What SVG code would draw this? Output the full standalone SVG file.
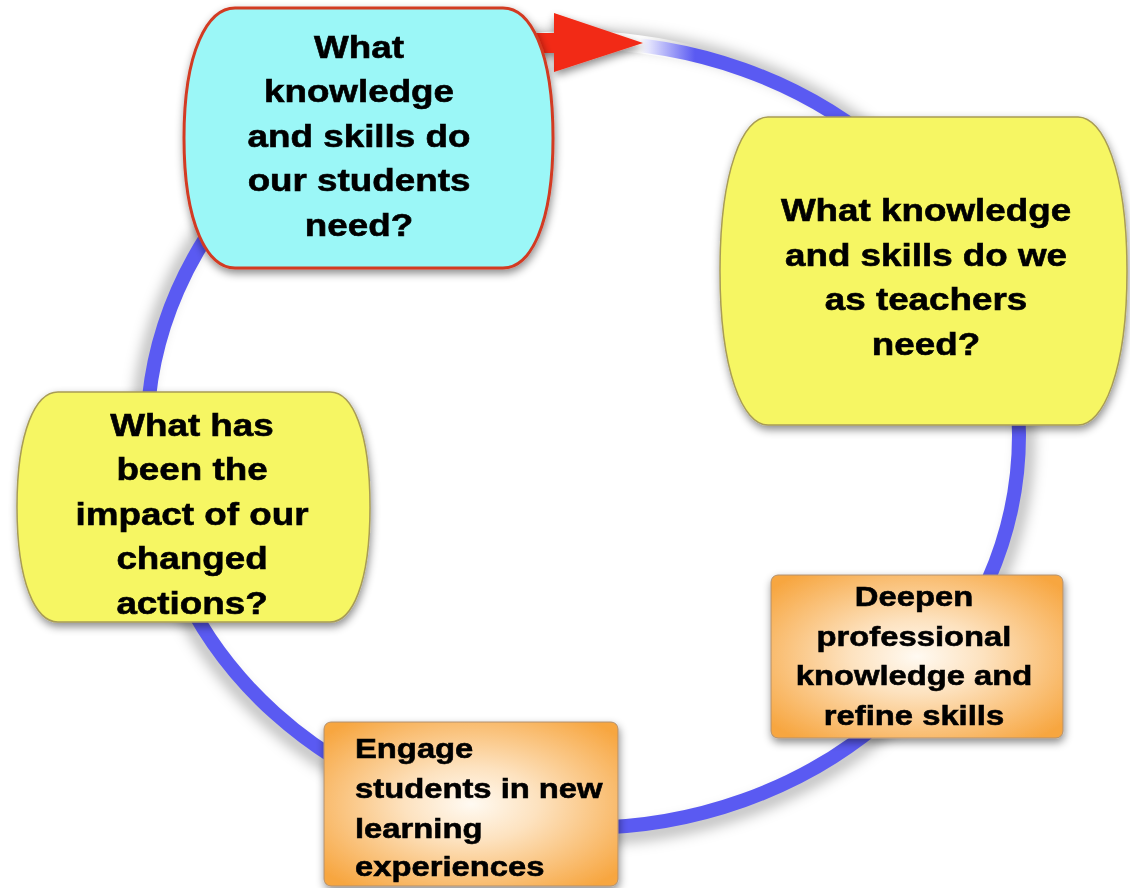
<svg xmlns="http://www.w3.org/2000/svg" width="1130" height="888" viewBox="0 0 1130 888">
<style>
.t{font-family:"Liberation Sans",Arial,Helvetica,sans-serif;font-weight:bold;fill:#000;stroke:#000;stroke-width:0.6}
.big{font-size:32px}
.sm{font-size:28.5px}
.yel{fill:#f6f663;stroke:#a89c55;stroke-width:1.5}
.cyan{fill:#9bf7f7;stroke:#d23a24;stroke-width:3}
.org{fill:url(#og);stroke:#b09070;stroke-width:1}
</style>
<defs>
<filter id="sh" x="-10%" y="-10%" width="125%" height="130%">
<feDropShadow dx="1" dy="4" stdDeviation="4" flood-color="#000" flood-opacity="0.45"/>
</filter>
<filter id="blur" x="-10%" y="-10%" width="120%" height="120%">
<feGaussianBlur stdDeviation="7"/>
</filter>
<radialGradient id="og" cx="50%" cy="50%" r="65%">
<stop offset="0" stop-color="#fffaf2"/>
<stop offset="0.35" stop-color="#fde2bf"/>
<stop offset="1" stop-color="#f7a640"/>
</radialGradient>
<linearGradient id="fade" gradientUnits="userSpaceOnUse" x1="640" y1="0" x2="695" y2="0">
<stop offset="0" stop-color="#fff" stop-opacity="1"/>
<stop offset="1" stop-color="#fff" stop-opacity="0"/>
</linearGradient>
</defs>
<rect width="1130" height="888" fill="#fff"/>
<g id="connectors">
<ellipse cx="583" cy="437" rx="444" ry="400" fill="none" stroke="#000" stroke-opacity="0.28" stroke-width="14" filter="url(#blur)"/>
<ellipse cx="583" cy="435" rx="436" ry="393" fill="none" stroke="#5a5af2" stroke-width="14"/>
<path d="M 515,44 A 436 393 0 0 1 700,56.5" fill="none" stroke="url(#fade)" stroke-width="18"/>
<polygon points="518,33 554,33 554,13 643,43 554,72 554,53 518,53" fill="#f22a14" filter="url(#sh)"/>
</g>
<g id="node-students" filter="url(#sh)">
<path class="cyan" d="M 235,8 H 503 C 530,8 553,50 553,138 C 553,226 530,268 503,268 H 235 C 208,268 184,226 184,138 C 184,50 208,8 235,8 Z"/>
<g transform="translate(359,0) scale(1.15,1)" class="t big" text-anchor="middle">
<text x="0" y="58">What</text>
<text x="0" y="102.5">knowledge</text>
<text x="0" y="147">and skills do</text>
<text x="0" y="191.5">our students</text>
<text x="0" y="236">need?</text>
</g>
</g>
<g id="node-teachers" filter="url(#sh)">
<path class="yel" d="M 768,117 H 1078 C 1103,117 1127,170 1127,271 C 1127,372 1103,425 1078,425 H 768 C 743,425 720,372 720,271 C 720,170 743,117 768,117 Z"/>
<g transform="translate(926,0) scale(1.15,1)" class="t big" text-anchor="middle">
<text x="0" y="221">What knowledge</text>
<text x="0" y="266">and skills do we</text>
<text x="0" y="310">as teachers</text>
<text x="0" y="355">need?</text>
</g>
</g>
<g id="node-impact" filter="url(#sh)">
<path class="yel" d="M 58,392 H 330 C 352,392 370,430 370,507 C 370,584 352,622 330,622 H 58 C 36,622 17,584 17,507 C 17,430 36,392 58,392 Z"/>
<g transform="translate(192,0) scale(1.15,1)" class="t big" text-anchor="middle">
<text x="0" y="436">What has</text>
<text x="0" y="480.5">been the</text>
<text x="0" y="525">impact of our</text>
<text x="0" y="569.5">changed</text>
<text x="0" y="614">actions?</text>
</g>
</g>
<g id="node-deepen" filter="url(#sh)">
<rect class="org" x="771" y="575" width="292" height="163" rx="7"/>
<g transform="translate(914,0) scale(1.15,1)" class="t sm" text-anchor="middle">
<text x="0" y="606">Deepen</text>
<text x="0" y="646">professional</text>
<text x="0" y="685">knowledge and</text>
<text x="0" y="725">refine skills</text>
</g>
</g>
<g id="node-engage" filter="url(#sh)">
<rect class="org" x="324" y="722" width="294" height="164" rx="7"/>
<g transform="translate(355,0) scale(1.15,1)" class="t sm">
<text x="0" y="758">Engage</text>
<text x="0" y="798">students in new</text>
<text x="0" y="838">learning</text>
<text x="0" y="876">experiences</text>
</g>
</g>
</svg>
